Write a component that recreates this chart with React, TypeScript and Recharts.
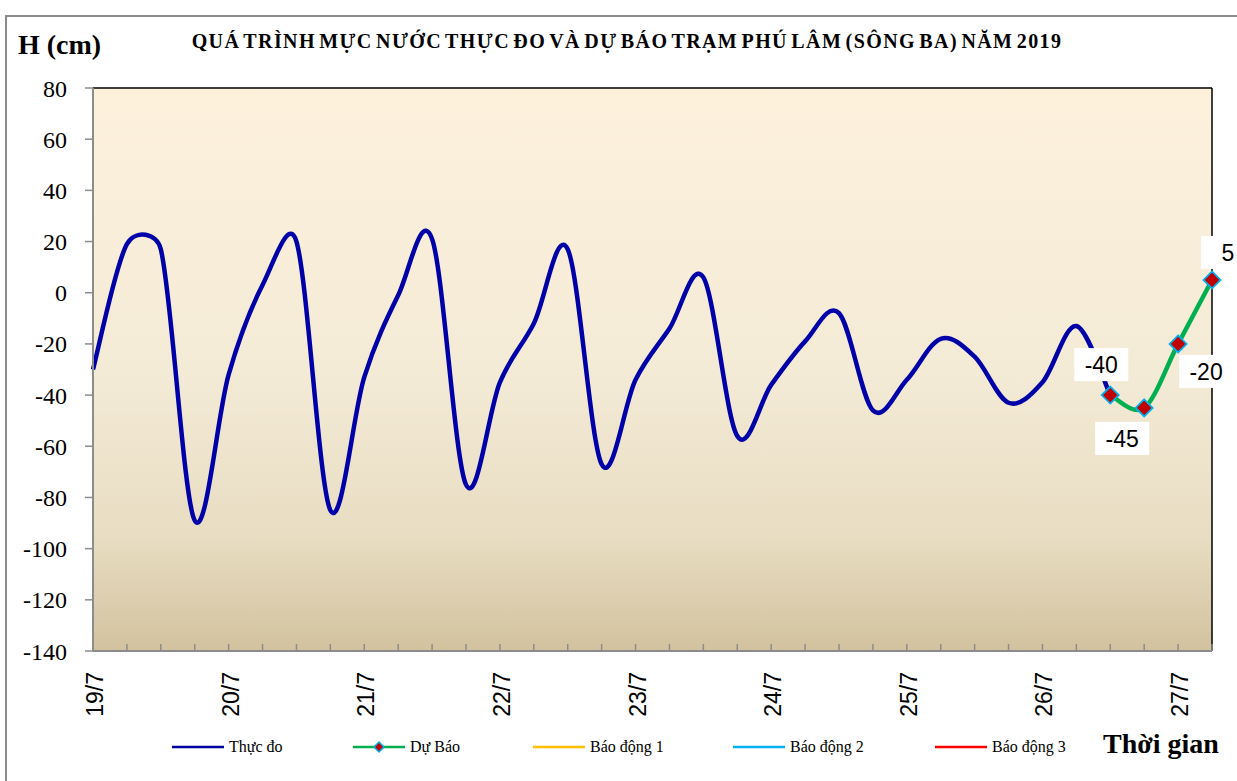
import React from "react";
import {
  CartesianGrid,
  LabelList,
  Line,
  LineChart,
  ReferenceLine,
  XAxis,
  YAxis,
} from "recharts";

const DAYS = ["19/7", "20/7", "21/7", "22/7", "23/7", "24/7", "25/7", "26/7", "27/7"];
const HOURS = [0, 6, 12, 18];
const POINT_COUNT = 34;

// mực nước thực đo, 6h một lần, từ 0h 19/7
const OBSERVED = [
  -30, 19, 17, -89, -32, 3, 20, -85, -33, -1, 21, -75, -35, -12, 17, -67, -34, -14, 6, -56,
  -36, -19, -8, -46, -34, -18, -25, -43, -35, -13, -40,
];
// dự báo, bắt đầu ở điểm cuối của thực đo
const FORECAST = [-40, -45, -20, 5];
const FORECAST_START = 30;

const Y_TICKS = [-140, -120, -100, -80, -60, -40, -20, 0, 20, 40, 60, 80];

const LEGEND = [
  { label: "Thực đo", color: "#0000A0" },
  { label: "Dự Báo", color: "#00B050", marker: true },
  { label: "Báo động 1", color: "#FFC000" },
  { label: "Báo động 2", color: "#00B0F0" },
  { label: "Báo động 3", color: "#FF0000" },
];
const LEGEND_X = [172, 353, 533, 733, 935];

const times = DAYS.flatMap((d) => HOURS.map((h) => `${d} ${h}h`)).slice(0, POINT_COUNT);
const data = times.map((t, i) => ({
  t,
  day: i % 4 === 0 ? DAYS[i / 4] : "",
  obs: i < OBSERVED.length ? OBSERVED[i] : null,
  fc: i >= FORECAST_START ? FORECAST[i - FORECAST_START] : null,
}));

const dist = (a: number[], b: number[]) => Math.hypot(b[0] - a[0], b[1] - a[1]);

// kiểu làm trơn giống Excel: Bezier, tay đòn không quá nửa dây cung
const excelSmooth = (context: any) => {
  let pts: number[][] = [];
  return {
    areaStart() {},
    areaEnd() {},
    lineStart() {
      pts = [];
    },
    point(x: number, y: number) {
      pts.push([+x, +y]);
    },
    lineEnd() {
      if (!pts.length) return;
      context.moveTo(pts[0][0], pts[0][1]);
      for (let i = 0; i < pts.length - 1; i++) {
        const p0 = pts[i - 1] || pts[i];
        const p1 = pts[i];
        const p2 = pts[i + 1];
        const p3 = pts[i + 2] || p2;
        const d12 = dist(p1, p2);
        const d02 = dist(p0, p2);
        const d13 = dist(p1, p3);
        const f1 = d02 > 0 ? Math.min(1 / 6, d12 / (2 * d02)) : 0;
        const f2 = d13 > 0 ? Math.min(1 / 6, d12 / (2 * d13)) : 0;
        context.bezierCurveTo(
          p1[0] + (p2[0] - p0[0]) * f1,
          p1[1] + (p2[1] - p0[1]) * f1,
          p2[0] - (p3[0] - p1[0]) * f2,
          p2[1] - (p3[1] - p1[1]) * f2,
          p2[0],
          p2[1]
        );
      }
    },
  };
};

const SERIF = "'Liberation Serif', 'Times New Roman', serif";
const SANS = "'Liberation Sans', Arial, sans-serif";

const XTick = (props: any) => {
  const { x, y, index } = props;
  const label = data[index]?.day ?? "";
  return (
    <g>
      <line x1={x} x2={x} y1={y - 7} y2={y} stroke="#8c8c8c" strokeWidth={1.5} />
      {label && (
        <text
          x={x + 10}
          y={y + 21}
          transform={`rotate(-90, ${x + 10}, ${y + 21})`}
          textAnchor="end"
          fontFamily={SANS}
          fontSize={23}
          fill="#000"
        >
          {label}
        </text>
      )}
    </g>
  );
};

const Diamond = (props: any) => {
  const { cx, cy, value, index } = props;
  if (value == null || cy == null) return <g key={index} />;
  const r = 8.5;
  return (
    <path
      key={index}
      d={`M${cx},${cy - r}L${cx + r},${cy}L${cx},${cy + r}L${cx - r},${cy}Z`}
      fill="#C00000"
      stroke="#00B0F0"
      strokeWidth={1.8}
    />
  );
};

const LABEL_OFFSETS = [
  [-9, -30],
  [-22, 31],
  [28, 28],
  [16, -27],
];

const ValueLabel = (props: any) => {
  const { x, y, value, index } = props;
  if (value == null) return null;
  const off = LABEL_OFFSETS[index - FORECAST_START] || LABEL_OFFSETS[index] || [0, -25];
  const cx = x + off[0];
  const cy = y + off[1];
  return (
    <g>
      <rect x={cx - 27} y={cy - 17} width={54} height={33} fill="#fff" />
      <text
        x={cx}
        y={cy}
        textAnchor="middle"
        dominantBaseline="central"
        fontFamily={SANS}
        fontSize={23}
        fill="#000"
      >
        {value}
      </text>
    </g>
  );
};

export default function App() {
  return (
    <div
      style={{
        position: "absolute",
        left: 0,
        top: 0,
        width: 1237,
        height: 781,
        overflow: "hidden",
        background: "#fff",
      }}
    >
      <div
        style={{
          position: "absolute",
          left: 5,
          top: 15,
          width: 1250,
          height: 790,
          border: "2px solid #8c8c8c",
          boxSizing: "border-box",
        }}
      />
      <div style={{ position: "absolute", left: 0, top: 0 }}>
        <LineChart
          width={1237}
          height={781}
          data={data}
          margin={{ top: 88, right: 25, bottom: 0, left: 0 }}
        >
          <defs>
            <linearGradient id="plotBg" x1="0" y1="0" x2="0" y2="1">
              <stop offset="0%" stopColor="#FDF1DC" />
              <stop offset="50%" stopColor="#F4EBD7" />
              <stop offset="80%" stopColor="#E8DDC2" />
              <stop offset="100%" stopColor="#D2C29E" />
            </linearGradient>
          </defs>
          <CartesianGrid horizontal={false} vertical={false} fill="url(#plotBg)" />
          <XAxis
            dataKey="t"
            interval={0}
            height={130}
            tickSize={0}
            tickMargin={0}
            tickLine={false}
            axisLine={{ stroke: "#8c8c8c", strokeWidth: 2 }}
            tick={<XTick />}
          />
          <YAxis
            type="number"
            domain={[-140, 80]}
            ticks={Y_TICKS}
            interval={0}
            width={93}
            tickSize={8}
            tickMargin={18}
            axisLine={{ stroke: "#8c8c8c", strokeWidth: 2 }}
            tickLine={{ stroke: "#8c8c8c", strokeWidth: 1.5 }}
            tick={{ fontFamily: SERIF, fontSize: 24, fill: "#000" }}
          />
          <ReferenceLine y={80} stroke="#000" strokeWidth={1.5} />
          <ReferenceLine x={times[POINT_COUNT - 1]} stroke="#000" strokeWidth={1.5} />
          <Line
            dataKey="obs"
            type={excelSmooth as any}
            stroke="#0000A8"
            strokeWidth={4.5}
            dot={false}
            activeDot={false}
            isAnimationActive={false}
          />
          <Line
            dataKey="fc"
            type={excelSmooth as any}
            stroke="#00B050"
            strokeWidth={4.5}
            dot={<Diamond />}
            activeDot={false}
            isAnimationActive={false}
          >
            <LabelList dataKey="fc" content={<ValueLabel />} />
          </Line>
        </LineChart>
      </div>

      <div
        style={{
          position: "absolute",
          left: 18,
          top: 29,
          fontFamily: SERIF,
          fontWeight: "bold",
          fontSize: 28,
          whiteSpace: "nowrap",
        }}
      >
        H (cm)
      </div>
      <div
        style={{
          position: "absolute",
          left: 0,
          width: 1254,
          top: 30,
          textAlign: "center",
          fontFamily: SERIF,
          fontWeight: "bold",
          fontSize: 20,
          letterSpacing: 1.4,
          wordSpacing: -3,
          whiteSpace: "nowrap",
        }}
      >
        QUÁ TRÌNH MỰC NƯỚC THỰC ĐO VÀ DỰ BÁO TRẠM PHÚ LÂM (SÔNG BA) NĂM 2019
      </div>
      <div
        style={{
          position: "absolute",
          left: 1103,
          top: 728,
          fontFamily: SERIF,
          fontWeight: "bold",
          fontSize: 28,
          whiteSpace: "nowrap",
        }}
      >
        Thời gian
      </div>

      <svg
        width={1237}
        height={781}
        style={{ position: "absolute", left: 0, top: 0, pointerEvents: "none" }}
      >
        {LEGEND.map((item, i) => {
          const x = LEGEND_X[i];
          return (
            <g key={item.label}>
              <line x1={x} x2={x + 52} y1={747} y2={747} stroke={item.color} strokeWidth={2.5} />
              {item.marker && (
                <path
                  d={`M${x + 26},${742}L${x + 31},${747}L${x + 26},${752}L${x + 21},${747}Z`}
                  fill="#C00000"
                  stroke="#00B0F0"
                  strokeWidth={1.5}
                />
              )}
              <text x={x + 57} y={752} fontFamily={SERIF} fontSize={16} fill="#000">
                {item.label}
              </text>
            </g>
          );
        })}
      </svg>
    </div>
  );
}
